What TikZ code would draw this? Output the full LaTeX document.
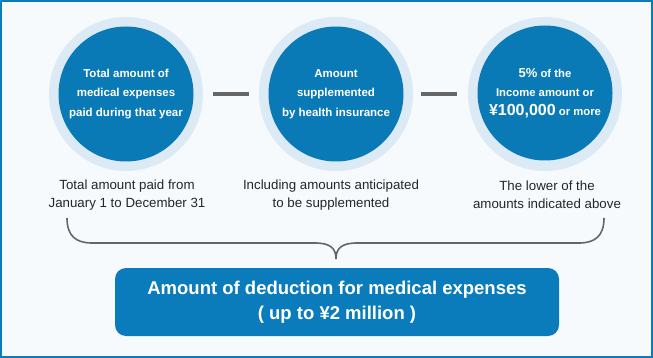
\documentclass[tikz,border=0pt]{standalone}
\usepackage{fontspec}
\setmainfont{Liberation Sans}
\definecolor{frameblue}{HTML}{0A7BBB}
\definecolor{circblue}{HTML}{0A7AB6}
\definecolor{ringblue}{HTML}{DCEAF5}
\definecolor{bgblue}{HTML}{F6FAFD}
\definecolor{dashgray}{HTML}{666666}
\tikzset{
  ring/.style={circle, fill=ringblue, minimum size=154pt, inner sep=0pt},
  core/.style={circle, fill=circblue, minimum size=135pt, inner sep=0pt, text=white, font=\bfseries\fontsize{11.5}{19.5}\selectfont, align=center},
  note/.style={font=\fontsize{13.3}{18}\selectfont, align=center, text=black!85},
  minus/.style={draw=dashgray, line width=4.5pt},
  bracestyle/.style={draw=dashgray, line width=1.6pt},
  result/.style={rounded corners=11pt, fill=frameblue, text=white, minimum width=444pt, minimum height=68pt, align=center, font=\bfseries\fontsize{18.5}{25}\selectfont}
}
\begin{document}
\begin{tikzpicture}[x=1pt,y=-1pt]
\useasboundingbox (0,0) rectangle (653,358);
\draw[draw=frameblue, line width=2pt, fill=bgblue] (1,1) rectangle (652,357);
\node[ring] (r1) at (126,94) {};
\node[ring] (r2) at (336,94) {};
\node[ring] (r3) at (545,94) {};
\node[core] (c1) at (126,94) {Total amount of\\medical expenses\\paid during that year};
\node[core] (c2) at (336,94) {Amount\\supplemented\\by health insurance};
\node[core, font=\bfseries\fontsize{11.3}{19}\selectfont] (c3) at (545,93) {{\fontsize{13}{19}\selectfont 5\%} of the\\Income amount or\\{\fontsize{16}{19}\selectfont ¥100,000}\ or more};
\coordinate (m1a) at (213,94); \coordinate (m1b) at (249,94);
\coordinate (m2a) at (421,94); \coordinate (m2b) at (457,94);
\draw[minus] (m1a) -- (m1b);
\draw[minus] (m2a) -- (m2b);
\node[note] (n1) at (127,195) {Total amount paid from\\January 1 to December 31};
\node[note] (n2) at (331,195) {Including amounts anticipated\\to be supplemented};
\node[note] (n3) at (547,195) {The lower of the\\amounts indicated above};
\coordinate (bl) at (67,218);
\coordinate (br) at (604,218);
\coordinate (bt) at (336,259);
\draw[bracestyle] (bl) .. controls (67,236) and (76,243) .. (92,243) -- (315,243) .. controls (330,243) and (336,248) .. (bt);
\draw[bracestyle] (br) .. controls (604,236) and (595,243) .. (579,243) -- (357,243) .. controls (342,243) and (336,248) .. (bt);
\node[result] (res) at (337,302) {Amount of deduction for medical expenses\\( up to ¥2 million )};
\end{tikzpicture}
\end{document}
